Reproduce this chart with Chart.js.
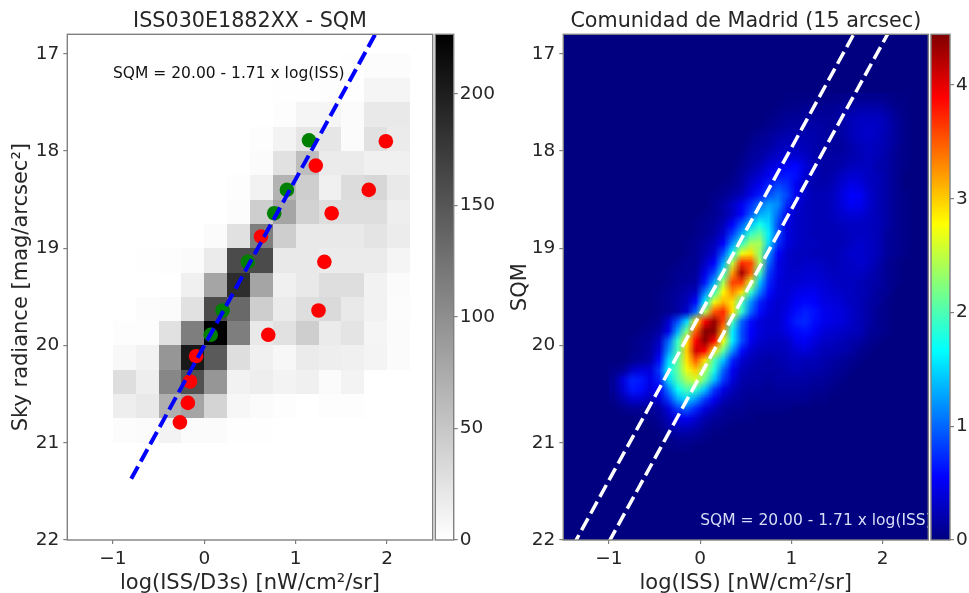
<!DOCTYPE html>
<html>
<head>
<meta charset="utf-8">
<title>ISS vs SQM</title>
<script src="https://cdn.jsdelivr.net/npm/chart.js@4"></script>
<style>
body { margin: 0; background: #fff; overflow: hidden; }
canvas { position: absolute; top: 0; }
</style>
</head>
<body>
<canvas id="histChart" width="434" height="593" style="left:0"></canvas>
<canvas id="histBar" width="64" height="593" style="left:434px"></canvas>
<canvas id="heatChart" width="432" height="593" style="left:498px"></canvas>
<canvas id="heatBar" width="39" height="593" style="left:930px"></canvas>
<script>
'use strict'

const xTicks = [-1, 0, 1, 2]
const yTicks = [17, 18, 19, 20, 21, 22]
const histBarTicks = [0, 50, 100, 150, 200]
const heatBarTicks = [0, 1, 2, 3, 4]
const histMax = 226.8
const heatMax = 4.445

// histogram counts, bins are 0.25 wide, x from -1, y from 17
const histX0 = -1
const histY0 = 17
const histStep = 0.25
const histCounts = [
    [0,0,0,0,0,0,0,0,0,0,1,3,3],
    [0,0,0,0,0,0,0,1,1,2,1,9,9],
    [0,0,0,0,0,0,0,2,9,9,4,20,20],
    [0,0,0,0,0,0,2,11,22,22,4,27,18],
    [0,0,0,0,0,0,4,27,58,18,18,13,13],
    [0,0,0,0,0,2,12,68,44,13,31,36,20],
    [0,0,0,0,0,3,44,80,40,29,29,29,15],
    [0,0,0,0,4,27,115,44,20,20,20,24,17],
    [0,1,2,4,18,160,160,20,20,18,18,18,9],
    [0,0,0,13,80,187,80,13,20,29,29,12,4],
    [0,3,4,27,160,133,44,18,29,33,20,12,3],
    [2,2,27,115,226,115,20,27,44,18,24,9,4],
    [6,12,93,205,147,29,13,7,18,15,13,10,4],
    [29,15,107,155,93,12,15,11,13,4,11,0,0],
    [15,20,71,80,38,7,4,2,0,2,2,0,0],
    [3,4,11,4,4,1,1,0,0,0,0,0,0]
]

const redX = [0.70, -0.09, -0.157, -0.18, -0.267, 0.62, 1.987, 1.22, 1.80, 1.394, 1.314, 1.25]
const redY = [19.89, 20.11, 20.37, 20.59, 20.79, 18.88, 17.90, 18.15, 18.40, 18.64, 19.14, 19.64]
const greenX = [1.146, 0.904, 0.765, 0.476, 0.20, 0.07]
const greenY = [17.89, 18.40, 18.64, 19.14, 19.64, 19.89]

const fitX = [-0.8, 1.9]
const fitY = [21.37, 16.75]
const bandUpperX = [-1.4, 1.7]
const bandUpperY = [22.07, 16.77]
const bandLowerX = [-1, 2.1]
const bandLowerY = [22.02, 16.72]

// density, cells are 0.1 wide, x from -1, y from 17.4
const heatX0 = -1
const heatY0 = 17.4
const heatStep = 0.1
const heatRows = [
    [0,0,0,0,0, 0,0,0,0,0, 0,0,0,0,0, 0,0,0,0,.02, .02,.02,.03,.03,.04, .05,.06,.07,.07,.07, .05,.03,.02,0,0],
    [0,0,0,0,0, 0,0,0,0,0, 0,0,0,0,0, 0,0,0,.03,.05, .06,.08,.08,.09,.1, .12,.15,.18,.18,.18, .12,.06,.03,0,0],
    [0,0,0,0,0, 0,0,0,0,0, 0,0,0,0,0, 0,0,.03,.06,.1, .1,.13,.13,.12,.12, .18,.24,.28,.28,.28, .2,.1,.04,0,0],
    [0,0,0,0,0, 0,0,0,0,0, 0,0,0,0,0, 0,.03,.07,.1,.14, .15,.18,.18,.15,.12, .16,.24,.3,.32,.3, .22,.12,.04,0,0],
    [0,0,0,0,0, 0,0,0,0,0, 0,0,0,0,0, .04,.08,.12,.18,.22, .22,.22,.2,.16,.12, .16,.25,.3,.33,.28, .2,.12,.04,0,0],
    [0,0,0,0,0, 0,0,0,0,0, 0,0,0,0,0, .08,.12,.16,.24,.28, .28,.24,.2,.16,.12, .12,.2,.25,.28,.25, .2,.1,.04,0,0],
    [0,0,0,0,0, 0,0,0,0,0, 0,0,0,0,.04, .12,.16,.25,.32,.36, .36,.3,.2,.16,.16, .16,.2,.24,.28,.24, .16,.08,.04,0,0],
    [0,0,0,0,0, 0,0,0,0,0, 0,0,0,0,.08, .16,.25,.38,.46,.55, .58,.4,.24,.16,.16, .2,.26,.28,.28,.2, .16,.08,.04,0,0],
    [0,0,0,0,0, 0,0,0,0,0, 0,0,0,.04,.12, .25,.35,.5,.62,.66, .6,.36,.24,.16,.2, .3,.36,.34,.28,.24, .16,.08,0,0,0],
    [0,0,0,0,0, 0,0,0,0,0, 0,0,.04,.08,.16, .35,.5,.7,.85,.75, .5,.28,.2,.2,.24, .36,.46,.42,.3,.24, .16,.08,0,0,0],
    [0,0,0,0,0, 0,0,0,0,0, 0,.04,.08,.16,.25, .45,.65,.88,1.05,.85, .5,.32,.24,.24,.28, .42,.55,.52,.34,.24, .16,.08,.04,0,0],
    [0,0,0,0,0, 0,0,0,0,0, 0,.08,.16,.3,.5, .75,1.05,1.25,1.15,.7, .38,.28,.24,.24,.28, .4,.52,.48,.34,.24, .16,.08,.04,0,0],
    [0,0,0,0,0, 0,0,0,0,0, .04,.08,.16,.3,.55, .95,1.3,1.4,1.0,.5, .32,.28,.24,.24,.28, .34,.38,.38,.3,.24, .16,.08,.04,0,0],
    [0,0,0,0,0, 0,0,0,0,.04, .08,.12,.25,.55,.95, 1.4,1.75,1.5,.85,.42, .32,.28,.24,.24,.24, .28,.3,.3,.28,.24, .16,.08,.04,0,0],
    [0,0,0,0,0, 0,0,0,0,.04, .08,.16,.35,.8,1.3, 1.9,2.1,1.6,.85,.42, .32,.28,.24,.24,.24, .24,.28,.3,.28,.24, .12,.08,.04,0,0],
    [0,0,0,0,0, 0,0,0,.04,.08, .16,.25,.55,1.2,1.9, 2.4,2.4,1.5,.75,.42, .32,.28,.28,.24,.24, .24,.3,.34,.3,.24, .12,.08,.04,0,0],
    [0,0,0,0,0, 0,0,0,.04,.08, .2,.35,.9,1.7,2.7, 2.9,2.3,1.2,.55,.34, .28,.28,.24,.24,.24, .28,.34,.34,.3,.24, .12,.08,.04,0,0],
    [0,0,0,0,0, 0,0,.04,.08,.08, .3,.55,1.3,2.5,3.7, 3.6,2.4,1.0,.45,.34, .28,.32,.32,.28,.24, .28,.3,.34,.3,.2, .08,.04,0,0,0],
    [0,0,0,0,0, 0,.04,.08,.08,.12, .45,.85,1.8,3.2,4.3, 3.5,2.0,.8,.45,.34, .32,.36,.36,.32,.28, .28,.3,.3,.24,.16, .08,.04,0,0,0],
    [0,0,0,0,0, 0,.04,.08,.12,.16, .65,1.3,2.4,3.6,3.6, 2.6,1.4,.7,.4,.34, .36,.4,.4,.36,.32, .28,.28,.24,.2,.16, .08,.04,0,0,0],
    [0,0,0,0,0, .04,.08,.12,.2,.3, 1.1,1.9,2.8,3.3,2.9, 1.9,1.1,.6,.4,.36, .45,.48,.48,.4,.36, .32,.28,.24,.2,.12, .08,0,0,0,0],
    [0,0,0,0,0, .04,.08,.16,.25,.6, 1.6,2.7,3.1,2.9,2.0, 1.2,.7,.45,.34,.4, .52,.58,.55,.44,.4, .36,.28,.24,.16,.12, .04,0,0,0,0],
    [0,0,0,0,0, .04,.08,.16,.34,1.0, 2.4,3.5,3.7,2.9,1.9, 1.0,.6,.4,.34,.45, .6,.68,.62,.48,.44, .4,.32,.24,.16,.08, .04,0,0,0,0],
    [0,0,0,0,.04, .08,.35,.9,1.5,2.9, 3.9,4.35,3.6,2.0,1.0, .6,.4,.34,.34,.5, .68,.72,.6,.48,.44, .4,.32,.24,.16,.08, .04,0,0,0,0],
    [0,0,0,.04,.08, .16,.45,1.3,2.2,3.5, 4.4,4.4,3.2,1.6,.9, .55,.4,.34,.34,.45, .58,.62,.52,.4,.36, .32,.28,.24,.12,.08, .04,0,0,0,0],
    [0,0,.04,.08,.12, .3,1.0,1.9,2.9,3.9, 4.4,3.9,2.7,1.6,.9, .5,.34,.3,.28,.32, .48,.52,.4,.32,.28, .24,.2,.16,.08,.04, 0,0,0,0,0],
    [0,0,.04,.08,.16, .4,1.2,2.0,3.0,4.1, 3.9,2.9,2.1,1.2,.6, .34,.26,.24,.24,.28, .36,.4,.32,.24,.24, .2,.16,.08,.04,0, 0,0,0,0,0],
    [0,0,.08,.12,.2, .6,1.5,2.1,2.9,3.5, 2.9,2.0,1.4,.7,.36, .25,.2,.16,.2,.24, .28,.24,.24,.2,.16, .12,.08,.04,0,0, 0,0,0,0,0],
    [.05,.1,.3,.4,.4, .8,1.7,2.1,2.7,3.0, 2.4,1.8,1.0,.5,.26, .2,.16,.16,.16,.2, .24,.2,.2,.16,.12, .08,.04,0,0,0, 0,0,0,0,0],
    [.1,.4,.7,.65,.45, .7,1.5,2.0,2.4,2.6, 2.1,1.4,.8,.4,.2, .16,.16,.12,.16,.16, .16,.16,.12,.12,.08, .04,0,0,0,0, 0,0,0,0,0],
    [.1,.35,.65,.6,.4, .55,1.1,1.7,2.0,1.9, 1.4,.8,.45,.26,.16, .12,.12,.08,.12,.12, .12,.12,.08,.08,.04, 0,0,0,0,0, 0,0,0,0,0],
    [.05,.2,.35,.35,.25, .35,.8,1.3,1.5,1.2, .8,.5,.25,.16,.12, .08,.08,.08,.08,.08, .08,.08,.04,.04,0, 0,0,0,0,0, 0,0,0,0,0],
    [0,.05,.1,.1,.1, .15,.4,.8,.95,.7, .4,.25,.12,.08,.08, .04,.04,.04,.04,.04, 0,0,0,0,0, 0,0,0,0,0, 0,0,0,0,0],
    [0,0,0,.05,.05, .1,.25,.45,.5,.35, .2,.12,.08,.04,.04, .03,0,0,0,0, 0,0,0,0,0, 0,0,0,0,0, 0,0,0,0,0],
    [0,0,0,0,0, .05,.15,.25,.25,.2, .1,.05,.04,0,0, 0,0,0,0,0, 0,0,0,0,0, 0,0,0,0,0, 0,0,0,0,0],
    [0,0,0,0,0, 0,.05,.1,.1,.08, .04,0,0,0,0, 0,0,0,0,0, 0,0,0,0,0, 0,0,0,0,0, 0,0,0,0,0],
    [0,0,0,0,0, 0,.03,.04,.04,0, 0,0,0,0,0, 0,0,0,0,0, 0,0,0,0,0, 0,0,0,0,0, 0,0,0,0,0]
]

const textColor = '#262626'
const spineColor = '#808080'
const fontFamily = '"DejaVu Sans"'

function pairs(xs, ys) {
    return xs.map((x, i) => ({ x: x, y: ys[i] }))
}

function grayMap(v) {
    let g = Math.round(255 * (1 - Math.min(v / histMax, 1)))
    return [g, g, g]
}

// matplotlib jet
function jetMap(v) {
    let t = Math.max(0, Math.min(v / heatMax, 1))
    let part = (a) => Math.round(255 * Math.max(0, Math.min(1.5 - Math.abs(4 * t - a), 1)))
    return [part(3), part(2), part(1)]
}

function setTicks(values) {
    return (scale) => { scale.ticks = values.map(v => ({ value: v })) }
}

function tickText(v) {
    return String(v).replace('-', '\u2212')
}

const framePlugin = {
    id: 'frame',
    afterDraw(chart) {
        let a = chart.chartArea
        let c = chart.ctx
        c.save()
        c.strokeStyle = spineColor
        c.lineWidth = 1.4
        c.strokeRect(a.left, a.top, a.right - a.left, a.bottom - a.top)
        c.restore()
    }
}

const histPlugin = {
    id: 'histCells',
    beforeDatasetsDraw(chart) {
        let c = chart.ctx
        let xs = chart.scales.x
        let ys = chart.scales.y
        histCounts.forEach((row, r) => {
            row.forEach((v, k) => {
                if (v == 0) return
                let x1 = Math.round(xs.getPixelForValue(histX0 + k * histStep))
                let x2 = Math.round(xs.getPixelForValue(histX0 + (k + 1) * histStep))
                let y1 = Math.round(ys.getPixelForValue(histY0 + r * histStep))
                let y2 = Math.round(ys.getPixelForValue(histY0 + (r + 1) * histStep))
                c.fillStyle = 'rgb(' + grayMap(v).join(',') + ')'
                c.fillRect(x1, y1, x2 - x1, y2 - y1)
            })
        })
    }
}

const heatPlugin = {
    id: 'heatCells',
    beforeDatasetsDraw(chart) {
        let c = chart.ctx
        let a = chart.chartArea
        let xs = chart.scales.x
        let ys = chart.scales.y
        c.fillStyle = 'rgb(' + jetMap(0).join(',') + ')'
        c.fillRect(a.left, a.top, a.right - a.left, a.bottom - a.top)

        let cols = heatRows[0].length
        let small = document.createElement('canvas')
        small.width = cols
        small.height = heatRows.length
        let sc = small.getContext('2d')
        let img = sc.createImageData(cols, heatRows.length)
        heatRows.forEach((row, r) => {
            row.forEach((v, k) => {
                let rgb = jetMap(v)
                let i = (r * cols + k) * 4
                img.data[i] = rgb[0]
                img.data[i + 1] = rgb[1]
                img.data[i + 2] = rgb[2]
                img.data[i + 3] = 255
            })
        })
        sc.putImageData(img, 0, 0)

        let x1 = xs.getPixelForValue(heatX0)
        let x2 = xs.getPixelForValue(heatX0 + cols * heatStep)
        let y1 = ys.getPixelForValue(heatY0)
        let y2 = ys.getPixelForValue(heatY0 + heatRows.length * heatStep)
        c.save()
        c.imageSmoothingEnabled = true
        c.drawImage(small, x1, y1, x2 - x1, y2 - y1)
        c.restore()
    }
}

// equation text sits in data coordinates
function notePlugin(text, x, y, color) {
    return {
        id: 'note',
        afterDatasetsDraw(chart) {
            let c = chart.ctx
            let a = chart.chartArea
            c.save()
            c.beginPath()
            c.rect(a.left, a.top, a.right - a.left, a.bottom - a.top)
            c.clip()
            c.font = '15.5px ' + fontFamily
            c.fillStyle = color
            c.textAlign = 'left'
            c.textBaseline = 'alphabetic'
            c.fillText(text, chart.scales.x.getPixelForValue(x), chart.scales.y.getPixelForValue(y))
            c.restore()
        }
    }
}

function barPlugin(colorMap) {
    return {
        id: 'colorBar',
        beforeDatasetsDraw(chart) {
            let c = chart.ctx
            let a = chart.chartArea
            let ys = chart.scales.y
            for (let y = Math.floor(a.top); y < a.bottom; y++) {
                c.fillStyle = 'rgb(' + colorMap(ys.getValueForPixel(y + 0.5)).join(',') + ')'
                c.fillRect(a.left, y, a.right - a.left, 1)
            }
        }
    }
}

function axisStyle(titleText, titlePad) {
    return {
        title: { display: true, text: titleText, color: textColor, padding: titlePad, font: { family: fontFamily, size: 21 } },
        border: { display: false },
        grid: { drawOnChartArea: false, drawTicks: true, tickLength: 4, color: spineColor, lineWidth: 1.2 },
        ticks: { color: textColor, padding: 4, autoSkip: false, maxRotation: 0, font: { family: fontFamily, size: 18.5 }, callback: tickText }
    }
}

function mainOptions(titleText, xTitle, yTitle, yWidth, yPad, rightPad) {
    return {
        responsive: false,
        animation: false,
        clip: true,
        layout: { autoPadding: false, padding: { right: rightPad } },
        plugins: {
            legend: { display: false },
            tooltip: { enabled: false },
            title: {
                display: true, text: titleText, color: textColor, fullSize: false,
                padding: { top: 9.46, bottom: 0 }, font: { family: fontFamily, size: 20.7, weight: 'normal' }
            }
        },
        scales: {
            x: Object.assign(axisStyle(xTitle, { top: 0, bottom: -3 }), {
                type: 'linear', min: -1.5, max: 2.5,
                afterBuildTicks: setTicks(xTicks),
                afterFit(scale) { scale.height = 53 }
            }),
            y: Object.assign(axisStyle(yTitle, { top: yPad, bottom: 0 }), {
                type: 'linear', reverse: true, min: 16.8, max: 22,
                afterBuildTicks: setTicks(yTicks),
                afterFit(scale) { scale.width = yWidth }
            })
        }
    }
}

let histOptions = mainOptions('ISS030E1882XX - SQM', 'log(ISS/D3s) [nW/cm\u00b2/sr]', 'Sky radiance [mag/arcsec\u00b2]', 67.3, 9.4, 1.3)
let heatOptions = mainOptions('Comunidad de Madrid (15 arcsec)', 'log(ISS) [nW/cm\u00b2/sr]', 'SQM', 65.3, 10.4, 1.7)

function barOptions(ticks, maxValue, leftPad, axisWidth) {
    return {
        responsive: false,
        animation: false,
        layout: { autoPadding: false, padding: { left: leftPad, top: 34.3, bottom: 53 } },
        plugins: { legend: { display: false }, tooltip: { enabled: false } },
        scales: {
            x: { type: 'linear', display: false },
            y: {
                type: 'linear', position: 'right', min: 0, max: maxValue,
                afterBuildTicks: setTicks(ticks),
                afterFit(scale) { scale.width = axisWidth },
                border: { display: false },
                grid: { drawOnChartArea: false, drawTicks: true, tickLength: 4, color: spineColor, lineWidth: 1.2 },
                ticks: { color: textColor, padding: 2, autoSkip: false, font: { family: fontFamily, size: 18.5 }, callback: tickText }
            }
        }
    }
}

// left panel
new Chart(document.getElementById('histChart').getContext('2d'), {
    type: 'scatter',
    data: {
        datasets: [
            { label: 'fit', data: pairs(fitX, fitY), showLine: true, borderColor: '#0000ff', borderWidth: 4, borderDash: [14, 5.7], pointRadius: 0, fill: false },
            { label: 'green', data: pairs(greenX, greenY), backgroundColor: '#008000', borderWidth: 0, pointRadius: 7.3 },
            { label: 'red', data: pairs(redX, redY), backgroundColor: '#ff0000', borderWidth: 0, pointRadius: 7.3 }
        ]
    },
    options: histOptions,
    plugins: [histPlugin, notePlugin('SQM = 20.00 - 1.71 x log(ISS)', -1.0, 17.25, '#111111'), framePlugin]
})

new Chart(document.getElementById('histBar').getContext('2d'), {
    type: 'scatter',
    data: { datasets: [{ data: [] }] },
    options: barOptions(histBarTicks, histMax, 1.3, 44.3),
    plugins: [barPlugin(grayMap), framePlugin]
})

// right panel
new Chart(document.getElementById('heatChart').getContext('2d'), {
    type: 'scatter',
    data: {
        datasets: [
            { label: 'upper', data: pairs(bandUpperX, bandUpperY), showLine: true, borderColor: '#ffffff', borderWidth: 3.5, borderDash: [13.5, 5.5], pointRadius: 0, fill: false },
            { label: 'lower', data: pairs(bandLowerX, bandLowerY), showLine: true, borderColor: '#ffffff', borderWidth: 3.5, borderDash: [13.5, 5.5], pointRadius: 0, fill: false }
        ]
    },
    options: heatOptions,
    plugins: [heatPlugin, notePlugin('SQM = 20.00 - 1.71 x log(ISS)', 0, 21.85, '#d8def5'), framePlugin]
})

new Chart(document.getElementById('heatBar').getContext('2d'), {
    type: 'scatter',
    data: { datasets: [{ data: [] }] },
    options: barOptions(heatBarTicks, heatMax, 1, 19),
    plugins: [barPlugin(jetMap), framePlugin]
})
</script>
</body>
</html>
